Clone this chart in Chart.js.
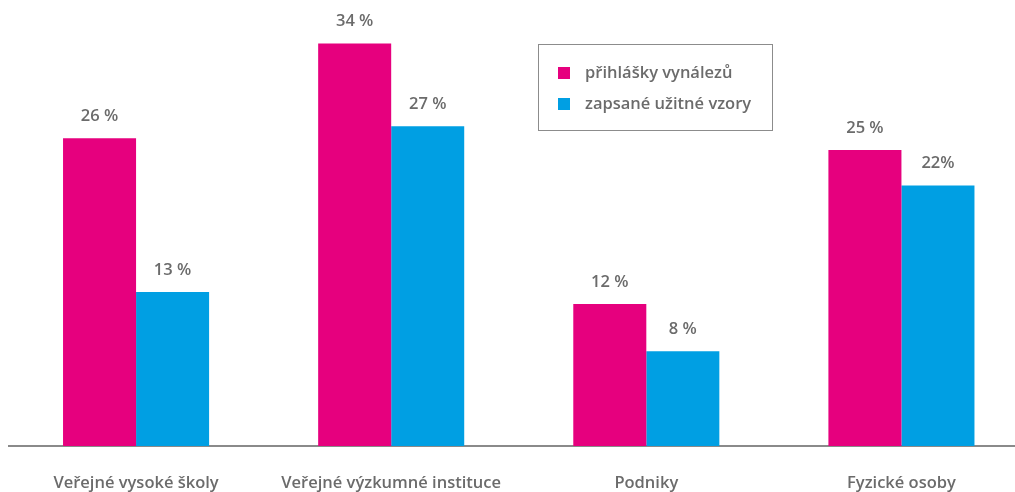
<!DOCTYPE html>
<html lang="cs">
<head>
<meta charset="utf-8">
<script src="https://cdn.jsdelivr.net/npm/chart.js@4/dist/chart.umd.min.js"></script>
<style>
    html, body { margin: 0; padding: 0; background: #fff; overflow: hidden; }
    #wrap { position: relative; width: 1029px; height: 492px; }
</style>
</head>
<body>
<div id="wrap"><canvas id="chart"></canvas></div>
<script>
// DATA
const categories = ['Veřejné vysoké školy', 'Veřejné výzkumné instituce', 'Podniky', 'Fyzické osoby'];
const seriesNames = ['přihlášky vynálezů', 'zapsané užitné vzory'];
const inventions = [26, 34, 12, 25];
const utilityModels = [13, 27, 8, 22];
const inventionLabels = ['26 %', '34 %', '12 %', '25 %'];
const utilityLabels = ['13 %', '27 %', '8 %', '22%'];

const PINK = '#e6007e';
const BLUE = '#009fe3';
const TEXT = '#6b6b6b';
const FONT = '"Open Sans", "Noto Sans", sans-serif';
const FONT_SIZE = 16.5;

// value labels above each bar
const barLabels = {
    id: 'barLabels',
    afterDatasetsDraw(chart) {
        const ctx = chart.ctx;
        const texts = [inventionLabels, utilityLabels];
        ctx.save();
        ctx.font = `600 ${FONT_SIZE}px ${FONT}`;
        ctx.fillStyle = TEXT;
        ctx.textAlign = 'center';
        ctx.textBaseline = 'middle';
        chart.data.datasets.forEach((ds, di) => {
            chart.getDatasetMeta(di).data.forEach((bar, i) => {
                ctx.fillText(texts[di][i], bar.x, bar.y - 22);
            });
        });
        ctx.restore();
    }
};

// boxed legend inside the plot
const boxLegend = {
    id: 'boxLegend',
    afterDraw(chart) {
        const ctx = chart.ctx;
        ctx.save();
        ctx.strokeStyle = '#8c8c8c';
        ctx.lineWidth = 1;
        ctx.strokeRect(538.5, 44.5, 234, 86);
        ctx.font = `600 ${FONT_SIZE}px ${FONT}`;
        ctx.textBaseline = 'middle';
        chart.data.datasets.forEach((ds, i) => {
            const cy = 73 + i * 31;
            ctx.fillStyle = ds.backgroundColor;
            ctx.fillRect(558, cy - 6, 12, 12);
            ctx.fillStyle = TEXT;
            ctx.fillText(ds.label, 585, cy);
        });
        ctx.restore();
    }
};

new Chart(document.getElementById('chart'), {
    type: 'bar',
    data: {
        labels: categories,
        datasets: [
            { label: seriesNames[0], data: inventions, backgroundColor: PINK },
            { label: seriesNames[1], data: utilityModels, backgroundColor: BLUE }
        ]
    },
    options: {
        responsive: true,
        maintainAspectRatio: false,
        animation: false,
        layout: { padding: { left: 8.5, right: 0, top: 2, bottom: 0 } },
        datasets: { bar: { categoryPercentage: 0.5725, barPercentage: 1 } },
        plugins: { legend: { display: false }, tooltip: { enabled: false } },
        scales: {
            x: {
                afterFit(scale) { scale.height = 46; },
                grid: { display: false, drawTicks: false },
                border: { display: true, color: '#8a8a8a', width: 2 },
                ticks: { color: TEXT, font: { family: FONT, size: FONT_SIZE, weight: '600' }, padding: 27, maxRotation: 0, autoSkip: false }
            },
            y: { display: false, min: 0, max: 37.5 }
        }
    },
    plugins: [barLabels, boxLegend]
});
</script>
</body>
</html>
